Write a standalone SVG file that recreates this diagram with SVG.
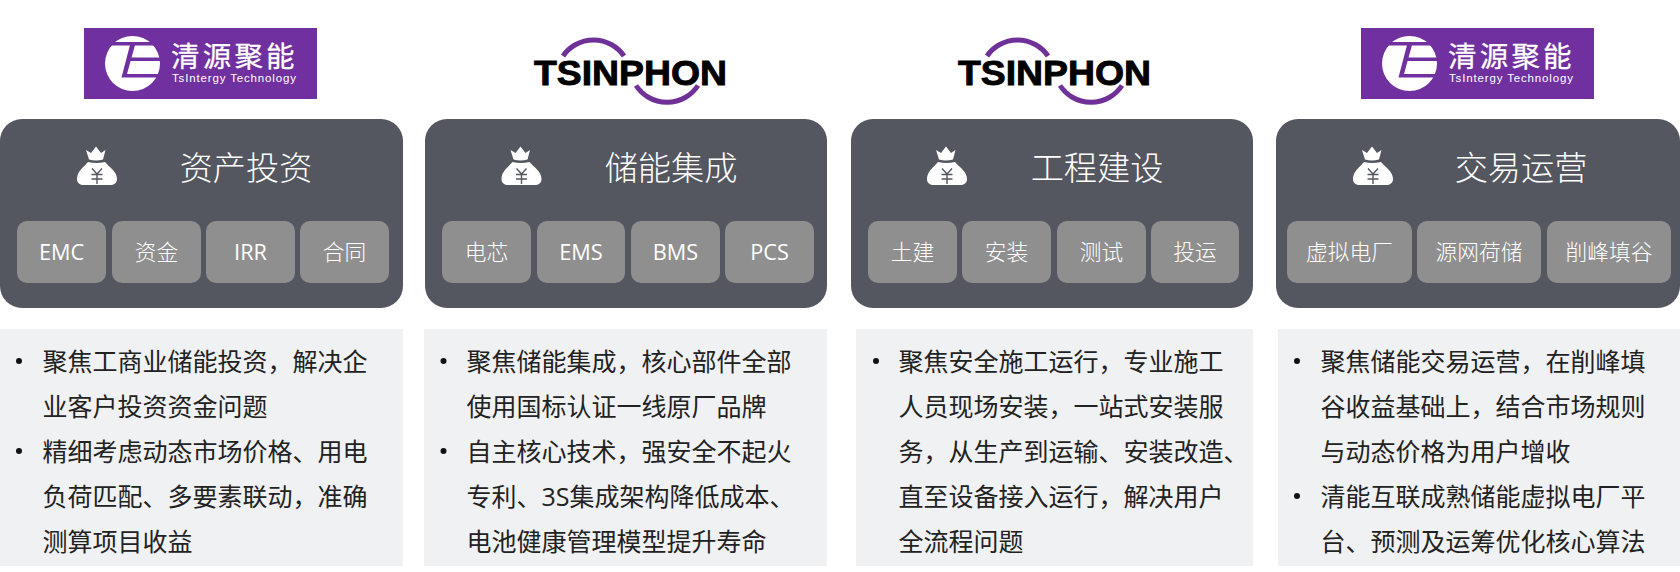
<svg xmlns="http://www.w3.org/2000/svg" xmlns:xlink="http://www.w3.org/1999/xlink" width="1680" height="572" viewBox="0 0 1680 572">
<style>
text{font-family:"Open Sans","Noto Sans CJK SC",sans-serif}
.panel{fill:#545760}
.chip{fill:#8f8f8f}
.body{fill:#f0f1f3}
.title{fill:#fff;font-size:33.200px;text-anchor:middle;font-weight:300}
.cl{fill:#fff;font-size:21.700px;text-anchor:middle;font-weight:300}
.en{font-weight:400}
.t{fill:#222;font-size:25px}
.b{fill:#111}
.purple{fill:#7030a0}
.lg{fill:#fff;font-size:28.500px;letter-spacing:3.200px;stroke:#fff;stroke-width:.3}
.ls{fill:#fff;font-size:11.500px;font-family:"Liberation Sans",sans-serif;letter-spacing:.85px}
.ts{fill:#000;stroke:#000;stroke-width:.9;font-family:"Liberation Sans",sans-serif;font-weight:700;font-size:35px}
.arc{fill:none;stroke:#6f3198;stroke-width:5}
</style>
<defs>
<g id="bag">
<path fill="#fff" d="M86 150L91 153L96 146.500L101 153L105.500 150L103 159.500Q96 161.500 89 159.500ZM88 162Q96 164 105 162C109 167 117 171 117 179C117 183 114 185 110 185H84C80 185 77 183 77 179C77 171 84 167 88 162Z"/>
<path fill="none" stroke="#545760" stroke-width="1.400" d="M97 174V184M92 168.500L97 174L102 168.500M91.500 174.500H102.500M91.500 179H102.500"/>
</g>
<g id="mark">
<circle cx="132.500" cy="63.500" r="27.500" fill="#fff"/>
<path fill="#7030a0" d="M104 42H161V45.500H104ZM130 45H135L127 74H161V77.500H121.500ZM131 57.500H160V61H130Z"/>
</g>
<g id="arcs">
<path class="arc" d="M563 56A37 37 0 0 1 624 56"/>
<path class="arc" d="M636 85.500A37 37 0 0 0 698 85.500"/>
</g>
</defs>
<g id="logo-1">
<rect class="purple" x="84" y="28" width="233" height="71"/>
<use xlink:href="#mark" href="#mark"/>
<text class="lg" x="171" y="67">清源聚能</text>
<text class="ls" x="172" y="82">TsIntergy Technology</text>
</g>
<g id="logo-2">
<use xlink:href="#arcs" href="#arcs"/>
<text class="ts" x="534" y="85" textLength="193" lengthAdjust="spacingAndGlyphs">TSINPHON</text>
</g>
<g id="logo-3">
<use xlink:href="#arcs" href="#arcs" x="424"/>
<text class="ts" x="958" y="85" textLength="193" lengthAdjust="spacingAndGlyphs">TSINPHON</text>
</g>
<g id="logo-4">
<rect class="purple" x="1361" y="28" width="233" height="71"/>
<use xlink:href="#mark" href="#mark" x="1277"/>
<text class="lg" x="1448" y="67">清源聚能</text>
<text class="ls" x="1449" y="82">TsIntergy Technology</text>
</g>
<g id="node-asset">
<rect class="panel" x="0" y="119" width="403" height="189" rx="22"/>
<use xlink:href="#bag" href="#bag"/>
<text class="title" x="246" y="180">资产投资</text>
<rect class="chip" x="17" y="221" width="89" height="62" rx="10"/><text class="cl en" x="61.500" y="260">EMC</text>
<rect class="chip" x="112" y="221" width="89" height="62" rx="10"/><text class="cl" x="156.500" y="260">资金</text>
<rect class="chip" x="206" y="221" width="89" height="62" rx="10"/><text class="cl en" x="250.500" y="260">IRR</text>
<rect class="chip" x="300" y="221" width="89" height="62" rx="10"/><text class="cl" x="344.500" y="260">合同</text>
<rect class="body" x="0" y="329" width="403" height="237"/>
<circle class="b" cx="19" cy="361" r="3"/><circle class="b" cx="19" cy="451" r="3"/>
<text class="t" x="42.500" y="371">聚焦工商业储能投资，解决企</text>
<text class="t" x="42.500" y="416">业客户投资资金问题</text>
<text class="t" x="42.500" y="461">精细考虑动态市场价格、用电</text>
<text class="t" x="42.500" y="506">负荷匹配、多要素联动，准确</text>
<text class="t" x="42.500" y="551">测算项目收益</text>
</g>
<g id="node-integration">
<rect class="panel" x="425" y="119" width="402" height="189" rx="22"/>
<use xlink:href="#bag" href="#bag" x="424.500"/>
<text class="title" x="671" y="180">储能集成</text>
<rect class="chip" x="442" y="221" width="89" height="62" rx="10"/><text class="cl" x="486.500" y="260">电芯</text>
<rect class="chip" x="537" y="221" width="88" height="62" rx="10"/><text class="cl en" x="581" y="260">EMS</text>
<rect class="chip" x="631" y="221" width="89" height="62" rx="10"/><text class="cl en" x="675.500" y="260">BMS</text>
<rect class="chip" x="725" y="221" width="89" height="62" rx="10"/><text class="cl en" x="769.500" y="260">PCS</text>
<rect class="body" x="424" y="329" width="403" height="237"/>
<circle class="b" cx="443.500" cy="361" r="3"/><circle class="b" cx="443.500" cy="451" r="3"/>
<text class="t" x="466.500" y="371">聚焦储能集成，核心部件全部</text>
<text class="t" x="466.500" y="416">使用国标认证一线原厂品牌</text>
<text class="t" x="466.500" y="461">自主核心技术，强安全不起火</text>
<text class="t" x="466.500" y="506">专利、3S集成架构降低成本、</text>
<text class="t" x="466.500" y="551">电池健康管理模型提升寿命</text>
</g>
<g id="node-engineering">
<rect class="panel" x="851" y="119" width="402" height="189" rx="22"/>
<use xlink:href="#bag" href="#bag" x="850"/>
<text class="title" x="1097" y="180">工程建设</text>
<rect class="chip" x="868" y="221" width="89" height="62" rx="10"/><text class="cl" x="912.500" y="260">土建</text>
<rect class="chip" x="962" y="221" width="89" height="62" rx="10"/><text class="cl" x="1006.500" y="260">安装</text>
<rect class="chip" x="1057" y="221" width="89" height="62" rx="10"/><text class="cl" x="1101.500" y="260">测试</text>
<rect class="chip" x="1151" y="221" width="88" height="62" rx="10"/><text class="cl" x="1195" y="260">投运</text>
<rect class="body" x="856" y="329" width="397" height="237"/>
<circle class="b" cx="876" cy="361" r="3"/>
<text class="t" x="898.500" y="371">聚焦安全施工运行，专业施工</text>
<text class="t" x="898.500" y="416">人员现场安装，一站式安装服</text>
<text class="t" x="898.500" y="461">务，从生产到运输、安装改造、</text>
<text class="t" x="898.500" y="506">直至设备接入运行，解决用户</text>
<text class="t" x="898.500" y="551">全流程问题</text>
</g>
<g id="node-trading">
<rect class="panel" x="1276" y="119" width="404" height="189" rx="22"/>
<use xlink:href="#bag" href="#bag" x="1276"/>
<text class="title" x="1521" y="180">交易运营</text>
<rect class="chip" x="1287" y="221" width="125" height="62" rx="10"/><text class="cl" x="1349.500" y="260">虚拟电厂</text>
<rect class="chip" x="1417" y="221" width="124" height="62" rx="10"/><text class="cl" x="1479" y="260">源网荷储</text>
<rect class="chip" x="1547" y="221" width="124" height="62" rx="10"/><text class="cl" x="1609" y="260">削峰填谷</text>
<rect class="body" x="1278" y="329" width="402" height="237"/>
<circle class="b" cx="1297" cy="361" r="3"/><circle class="b" cx="1297" cy="496" r="3"/>
<text class="t" x="1320.500" y="371">聚焦储能交易运营，在削峰填</text>
<text class="t" x="1320.500" y="416">谷收益基础上，结合市场规则</text>
<text class="t" x="1320.500" y="461">与动态价格为用户增收</text>
<text class="t" x="1320.500" y="506">清能互联成熟储能虚拟电厂平</text>
<text class="t" x="1320.500" y="551">台、预测及运筹优化核心算法</text>
</g>
<g id="connectors"/>
</svg>
